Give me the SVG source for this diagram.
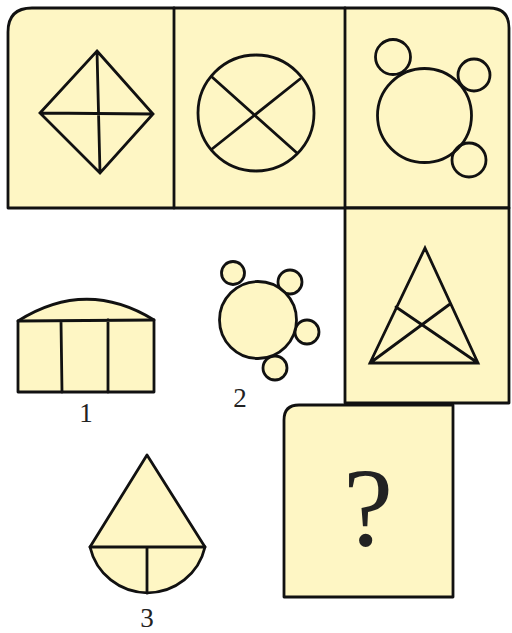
<svg xmlns="http://www.w3.org/2000/svg" width="512" height="633" viewBox="0 0 512 633">
<style>
.f{fill:#FEF6C4;stroke:#111;stroke-width:2.8;stroke-linejoin:round}
.l{fill:none;stroke:#111;stroke-width:2.8;stroke-linecap:round}
.t{font-family:"Liberation Serif",serif;fill:#222;text-anchor:middle}
</style>
<rect width="512" height="633" fill="#fff"/>
<g id="panel-top">
<path class="f" d="M8,208 L8,32 Q8,8 32,8 L489,8 Q509,8 509,28 L509,208 Z"/>
<line class="l" x1="174" y1="8" x2="174" y2="208"/>
<line class="l" x1="345" y1="8" x2="345" y2="208"/>
</g>
<g id="cell-diamond">
<path class="l" d="M97,51 L153,114 L100,173 L40,113 Z M40,113 L153,114 M97,51 L100,173"/>
</g>
<g id="cell-circle-x">
<circle class="l" cx="256" cy="113" r="58"/>
<line class="l" x1="212" y1="77" x2="297" y2="153"/>
<line class="l" x1="212" y1="149" x2="300" y2="79"/>
</g>
<g id="cell-circles">
<circle class="l" cx="424.5" cy="115.5" r="47"/>
<circle class="l" cx="393" cy="57" r="17.5"/>
<circle class="l" cx="474" cy="75" r="16"/>
<circle class="l" cx="469" cy="160" r="17"/>
</g>
<g id="cell-triangle">
<path class="f" d="M345,208 L509,208 L509,403 L345,403 Z"/>
<path class="l" d="M425,248 L478,363 L370,363 Z M370,363 L450,304 M478,363 L396,307"/>
</g>
<g id="cell-question">
<path class="f" d="M284,597 L284,420 Q284,405 299,405 L453,405 L453,597 Z"/>
<text class="t" x="368" y="545" font-size="112">?</text>
</g>
<g id="option-1">
<path class="f" d="M18,321 Q86,278 154,320 L154,392 L18,392 Z"/>
<path class="l" d="M18,321 L154,320 M61,321 L62,392 M108,320 L108,392"/>
<text class="t" x="86" y="422" font-size="27">1</text>
</g>
<g id="option-2">
<circle class="f" cx="233" cy="273" r="11.5"/>
<circle class="f" cx="290" cy="282" r="12"/>
<circle class="f" cx="307" cy="332" r="12"/>
<circle class="f" cx="275" cy="368" r="12"/>
<circle class="f" cx="258" cy="320" r="38.5"/>
<text class="t" x="240" y="407" font-size="27">2</text>
</g>
<g id="option-3">
<path class="f" d="M147,455 L205,547 A59,59 0 0 1 90,547 Z"/>
<path class="l" d="M90,547 L205,547 M147,547 L147,593"/>
<text class="t" x="147" y="627" font-size="27">3</text>
</g>
</svg>
